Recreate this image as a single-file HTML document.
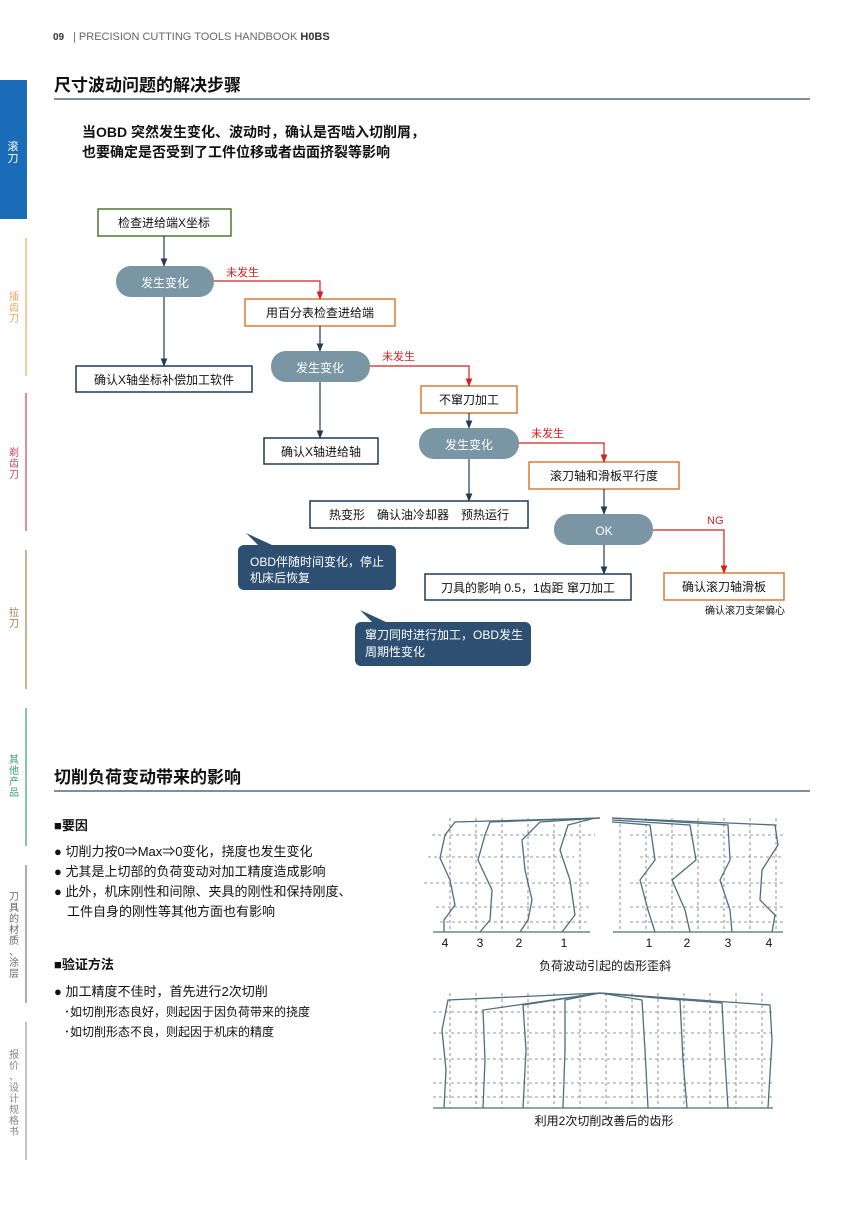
<!DOCTYPE html>
<html><head><meta charset="utf-8"><style>
body{margin:0;background:#fff;}
svg text{font-family:"Liberation Sans","Noto Sans CJK SC",sans-serif;}
</style></head><body>
<svg width="850" height="1201" viewBox="0 0 850 1201" xmlns="http://www.w3.org/2000/svg">
<defs>
<marker id="ab" viewBox="0 0 10 10" refX="9" refY="5" markerWidth="7" markerHeight="7" orient="auto"><path d="M0,1L10,5L0,9z" fill="#243b55"/></marker>
<marker id="ar" viewBox="0 0 10 10" refX="9" refY="5" markerWidth="7" markerHeight="7" orient="auto"><path d="M0,1L10,5L0,9z" fill="#d42020"/></marker>
</defs>
<!-- header -->
<text x="53" y="40" font-size="10" font-weight="bold" fill="#333">09</text>
<text x="73" y="40" font-size="11" fill="#666">| PRECISION CUTTING TOOLS HANDBOOK <tspan font-weight="bold" fill="#333">H0BS</tspan></text>
<!-- sidebar -->
<rect x="0" y="80" width="27" height="139" fill="#1a6bb8"/>
<text x="13" y="150" font-size="11" fill="#fff" text-anchor="middle"><tspan x="13" dy="0">滚</tspan><tspan x="13" dy="12">刀</tspan></text>
<g stroke-width="1.2">
<line x1="26" y1="238" x2="26" y2="376" stroke="#e9a35a"/>
<line x1="26" y1="393" x2="26" y2="531" stroke="#c9445f"/>
<line x1="26" y1="550" x2="26" y2="689" stroke="#a87a4b"/>
<line x1="26" y1="708" x2="26" y2="846" stroke="#3aa36b"/>
<line x1="26" y1="865" x2="26" y2="1003" stroke="#777"/>
<line x1="26" y1="1022" x2="26" y2="1160" stroke="#999"/>
</g>
<g font-size="10" text-anchor="middle">
<text fill="#e9a35a"><tspan x="14" y="300">插</tspan><tspan x="14" y="311">齿</tspan><tspan x="14" y="322">刀</tspan></text>
<text fill="#c9445f"><tspan x="14" y="456">剃</tspan><tspan x="14" y="467">齿</tspan><tspan x="14" y="478">刀</tspan></text>
<text fill="#a87a4b"><tspan x="14" y="616">拉</tspan><tspan x="14" y="627">刀</tspan></text>
<text fill="#3aa36b"><tspan x="14" y="763">其</tspan><tspan x="14" y="774">他</tspan><tspan x="14" y="785">产</tspan><tspan x="14" y="796">品</tspan></text>
<text fill="#666"><tspan x="14" y="900">刀</tspan><tspan x="14" y="911">具</tspan><tspan x="14" y="922">的</tspan><tspan x="14" y="933">材</tspan><tspan x="14" y="944">质</tspan><tspan x="14" y="955">、</tspan><tspan x="14" y="966">涂</tspan><tspan x="14" y="977">层</tspan></text>
<text fill="#888"><tspan x="14" y="1058">报</tspan><tspan x="14" y="1069">价</tspan><tspan x="14" y="1080">、</tspan><tspan x="14" y="1091">设</tspan><tspan x="14" y="1102">计</tspan><tspan x="14" y="1113">规</tspan><tspan x="14" y="1124">格</tspan><tspan x="14" y="1135">书</tspan></text>
</g>
<!-- section 1 -->
<text x="54" y="91" font-size="17" font-weight="bold" fill="#111">尺寸波动问题的解决步骤</text>
<line x1="54" y1="99" x2="810" y2="99" stroke="#2d4a6b" stroke-width="1.2"/>
<text x="82" y="137" font-size="14" font-weight="bold" fill="#111">当OBD 突然发生变化、波动时，确认是否啮入切削屑，</text>
<text x="82" y="157" font-size="14" font-weight="bold" fill="#111">也要确定是否受到了工件位移或者齿面挤裂等影响</text>
<!-- flowchart -->
<g font-size="12" fill="#111" text-anchor="middle">
<rect x="98" y="209" width="133" height="27" fill="#fff" stroke="#4d7a2e" stroke-width="1.5"/>
<text x="164" y="227">检查进给端X坐标</text>
<rect x="116" y="266" width="98" height="31" rx="15" fill="#7a96a5"/>
<text x="165" y="287" fill="#fff">发生变化</text>
<rect x="245" y="299" width="150" height="27" fill="#fff" stroke="#d87a3a" stroke-width="1.5"/>
<text x="320" y="317">用百分表检查进给端</text>
<rect x="76" y="366" width="176" height="26" fill="#fff" stroke="#1f3a5a" stroke-width="1.5"/>
<text x="164" y="384">确认X轴坐标补偿加工软件</text>
<rect x="271" y="351" width="99" height="31" rx="15" fill="#7a96a5"/>
<text x="320" y="372" fill="#fff">发生变化</text>
<rect x="421" y="386" width="96" height="27" fill="#fff" stroke="#d87a3a" stroke-width="1.5"/>
<text x="469" y="404">不窜刀加工</text>
<rect x="264" y="438" width="114" height="26" fill="#fff" stroke="#1f3a5a" stroke-width="1.5"/>
<text x="321" y="456">确认X轴进给轴</text>
<rect x="419" y="428" width="100" height="31" rx="15" fill="#7a96a5"/>
<text x="469" y="449" fill="#fff">发生变化</text>
<rect x="529" y="462" width="150" height="27" fill="#fff" stroke="#d87a3a" stroke-width="1.5"/>
<text x="604" y="480">滚刀轴和滑板平行度</text>
<rect x="310" y="501" width="218" height="27" fill="#fff" stroke="#1f3a5a" stroke-width="1.5"/>
<text x="419" y="519">热变形　确认油冷却器　预热运行</text>
<rect x="554" y="514" width="99" height="31" rx="15" fill="#7a96a5"/>
<text x="604" y="535" fill="#fff">OK</text>
<rect x="425" y="574" width="206" height="26" fill="#fff" stroke="#1f3a5a" stroke-width="1.5"/>
<text x="528" y="592">刀具的影响 0.5，1齿距 窜刀加工</text>
<rect x="664" y="573" width="120" height="27" fill="#fff" stroke="#d87a3a" stroke-width="1.5"/>
<text x="724" y="591">确认滚刀轴滑板</text>
<text x="745" y="614" font-size="10">确认滚刀支架偏心</text>
</g>
<!-- callouts -->
<path d="M244,545 h146 a6,6 0 0 1 6,6 v33 a6,6 0 0 1 -6,6 h-146 a6,6 0 0 1 -6,-6 v-33 a6,6 0 0 1 6,-6 z M258,545 l-12,-12 l26,12 z" fill="#2d4f72"/>
<text x="250" y="566" font-size="12" fill="#fff">OBD伴随时间变化，停止</text>
<text x="250" y="582" font-size="12" fill="#fff">机床后恢复</text>
<path d="M361,622 h164 a6,6 0 0 1 6,6 v32 a6,6 0 0 1 -6,6 h-164 a6,6 0 0 1 -6,-6 v-32 a6,6 0 0 1 6,-6 z M372,622 l-12,-12 l26,12 z" fill="#2d4f72"/>
<text x="365" y="639" font-size="12" fill="#fff">窜刀同时进行加工，OBD发生</text>
<text x="365" y="656" font-size="12" fill="#fff">周期性变化</text>
<!-- connectors -->
<g stroke="#243b55" stroke-width="1.2" fill="none">
<line x1="164" y1="236" x2="164" y2="266" marker-end="url(#ab)"/>
<line x1="164" y1="297" x2="164" y2="366" marker-end="url(#ab)"/>
<line x1="320" y1="326" x2="320" y2="351" marker-end="url(#ab)"/>
<line x1="320" y1="382" x2="320" y2="438" marker-end="url(#ab)"/>
<line x1="469" y1="413" x2="469" y2="428" marker-end="url(#ab)"/>
<line x1="469" y1="459" x2="469" y2="501" marker-end="url(#ab)"/>
<line x1="604" y1="489" x2="604" y2="514" marker-end="url(#ab)"/>
<line x1="604" y1="545" x2="604" y2="574" marker-end="url(#ab)"/>
</g>
<g stroke="#d42020" stroke-width="1.2" fill="none">
<polyline points="214,281 320,281 320,299" marker-end="url(#ar)"/>
<polyline points="370,366 469,366 469,386" marker-end="url(#ar)"/>
<polyline points="519,443 604,443 604,462" marker-end="url(#ar)"/>
<polyline points="653,530 724,530 724,573" marker-end="url(#ar)"/>
</g>
<g font-size="11" fill="#d42020">
<text x="226" y="276">未发生</text><text x="382" y="360">未发生</text><text x="531" y="437">未发生</text><text x="707" y="524">NG</text>
</g>
<!-- section 2 -->
<text x="54" y="783" font-size="17" font-weight="bold" fill="#111">切削负荷变动带来的影响</text>
<line x1="54" y1="791" x2="810" y2="791" stroke="#2d4a6b" stroke-width="1.2"/>
<g font-size="13" fill="#111">
<text x="54" y="830" font-weight="bold">■要因</text>
<text x="54" y="856">● 切削力按0⇒Max⇒0变化，挠度也发生变化</text>
<text x="54" y="876">● 尤其是上切部的负荷变动对加工精度造成影响</text>
<text x="54" y="896">● 此外，机床刚性和间隙、夹具的刚性和保持刚度、</text>
<text x="67" y="916">工件自身的刚性等其他方面也有影响</text>
<text x="54" y="969" font-weight="bold">■验证方法</text>
<text x="54" y="996">● 加工精度不佳时，首先进行2次切削</text>
<text x="64" y="1016" font-size="12">･如切削形态良好，则起因于因负荷带来的挠度</text>
<text x="64" y="1036" font-size="12">･如切削形态不良，则起因于机床的精度</text>
</g>
<!-- charts -->
<g stroke="#777" stroke-width="0.8" stroke-dasharray="3,3" fill="none">
<path d="M450,818V932M476,818V932M502,818V932M528,818V932M554,818V932M580,818V932 M432,835H595M428,857H574M424,883H590M436,907H590M440,922H590"/>
<path d="M620,818V932M646,818V932M672,818V932M698,818V932M724,818V932M750,818V932M776,818V932 M630,835H783M640,857H783M630,883H783M630,907H783M630,922H783"/>
<path d="M450,993V1108M476,993V1108M502,993V1108M528,993V1108M554,993V1108M580,993V1108M606,993V1108M632,993V1108M658,993V1108M684,993V1108M710,993V1108M736,993V1108M762,993V1108 M433,1012H773M433,1033H773M433,1059H773M433,1083H773M433,1097H773"/>
</g>
<g stroke="#4e6e7e" stroke-width="1.3" fill="none">
<path d="M444,932V920 L455,905 L450,880 L440,858 L445,835 L455,822 L600,818"/>
<path d="M480,932 L490,920 L492,890 L478,860 L485,835 L490,822 L600,818"/>
<path d="M520,932 L528,920 L532,900 L525,870 L522,840 L540,822 L600,818"/>
<path d="M562,932 L575,915 L570,880 L560,850 L568,825 L595,818"/>
<path d="M612,822 L650,825 L655,860 L640,880 L648,910 L655,932"/>
<path d="M612,820 L690,825 L696,860 L672,880 L685,910 L690,932"/>
<path d="M612,818 L728,825 L730,860 L720,880 L730,910 L732,932"/>
<path d="M612,818 L775,825 L778,845 L762,870 L760,900 L775,915 L772,932"/>
<path d="M444,1108 L446,1070 L442,1030 L448,1000 L600,993 L770,1005 L772,1040 L768,1108"/>
<path d="M483,1108 L485,1060 L483,1010 L600,993"/><path d="M523,1108 L526,1050 L523,1005 L600,993"/>
<path d="M563,1108 L565,1050 L565,1000 L600,993"/><path d="M600,993 L642,1000 L645,1050 L648,1108"/>
<path d="M600,993 L680,1000 L683,1060 L687,1108"/><path d="M600,993 L722,1003 L725,1060 L728,1108"/>
<path d="M433,932H590M613,932H783M433,1108H773"/>
</g>
<g font-size="12" fill="#111" text-anchor="middle">
<text x="445" y="947">4</text><text x="480" y="947">3</text><text x="519" y="947">2</text><text x="564" y="947">1</text>
<text x="649" y="947">1</text><text x="687" y="947">2</text><text x="728" y="947">3</text><text x="769" y="947">4</text>
<text x="605" y="970">负荷波动引起的齿形歪斜</text>
<text x="604" y="1125">利用2次切削改善后的齿形</text>
</g>
</svg>
</body></html>
